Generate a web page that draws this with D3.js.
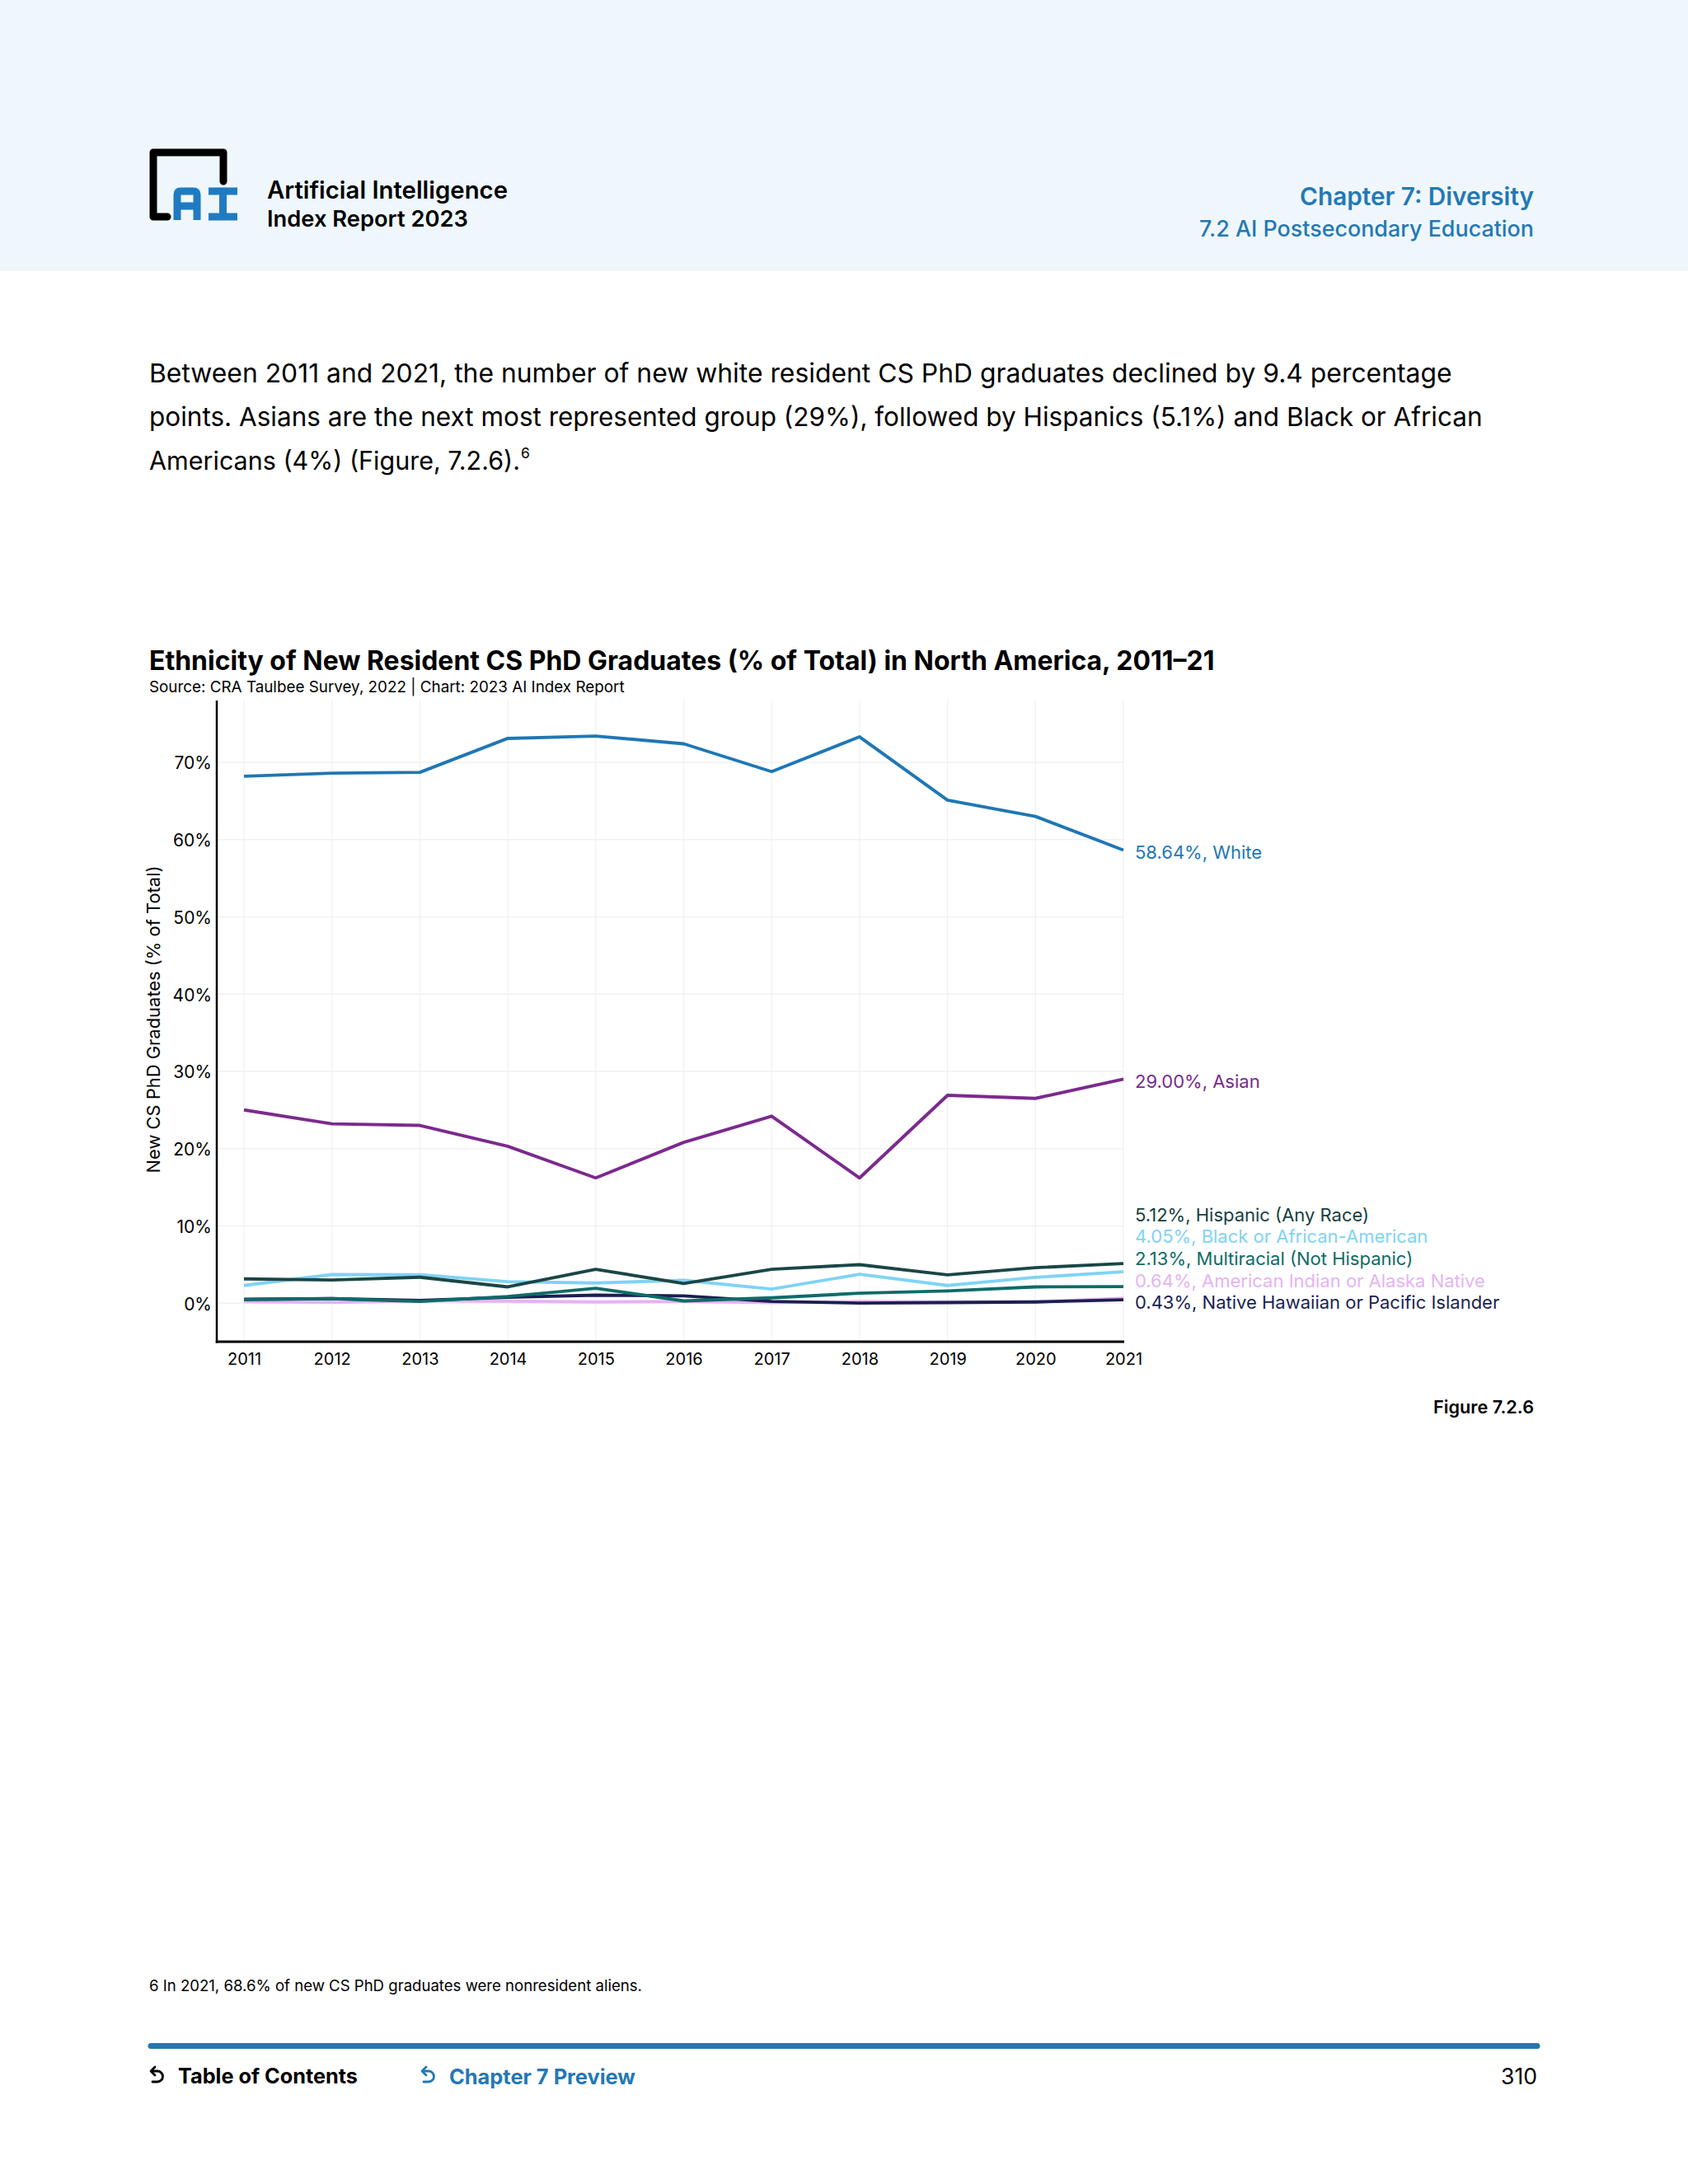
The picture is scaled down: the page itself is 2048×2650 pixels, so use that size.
<!DOCTYPE html>
<html>
<head>
<meta charset="utf-8">
<script src="https://cdn.jsdelivr.net/npm/d3@7"></script>
<style>
  html, body { margin: 0; padding: 0; background: #fff; }
  svg { display: block; }
  text { font-family: Inter, "Noto Sans", sans-serif; }
</style>
</head>
<body>
<svg id="page" width="2048" height="2650"></svg>
<script>
// ---------------- DATA ----------------
const years = [2011, 2012, 2013, 2014, 2015, 2016, 2017, 2018, 2019, 2020, 2021];
const white      = [68.2, 68.6, 68.7, 73.1, 73.4, 72.4, 68.8, 73.3, 65.1, 63.0, 58.64];
const asian      = [25.0, 23.2, 23.0, 20.3, 16.2, 20.8, 24.2, 16.2, 26.9, 26.5, 29.00];
const hispanic   = [3.13, 2.99, 3.35, 2.10, 4.38, 2.53, 4.38, 4.98, 3.66, 4.59, 5.12];
const black      = [2.28, 3.70, 3.67, 2.77, 2.60, 2.95, 1.81, 3.73, 2.28, 3.34, 4.05];
const multiracial= [0.45, 0.57, 0.21, 0.85, 1.92, 0.28, 0.68, 1.28, 1.57, 2.10, 2.13];
const amIndian   = [0.20, 0.10, 0.30, 0.25, 0.15, 0.21, 0.05, 0.20, 0.15, 0.15, 0.64];
const nhpi       = [0.50, 0.57, 0.35, 0.75, 1.03, 0.93, 0.21, 0.00, 0.07, 0.15, 0.43];
const seriesNames = ["White", "Asian", "Hispanic (Any Race)", "Black or African-American",
  "Multiracial (Not Hispanic)", "American Indian or Alaska Native", "Native Hawaiian or Pacific Islander"];
const yTicks = [0, 10, 20, 30, 40, 50, 60, 70];

const colors = {
  "White": "#1f77b4",
  "Asian": "#7b2a8e",
  "Hispanic (Any Race)": "#1b4646",
  "Black or African-American": "#7fd3f6",
  "Multiracial (Not Hispanic)": "#0e6b68",
  "American Indian or Alaska Native": "#e6b3f3",
  "Native Hawaiian or Pacific Islander": "#1b1f52"
};
const labelColors = {
  "White": "#1f77b4",
  "Asian": "#7b2a8e",
  "Hispanic (Any Race)": "#173f3e",
  "Black or African-American": "#7fd3f6",
  "Multiracial (Not Hispanic)": "#0e6b68",
  "American Indian or Alaska Native": "#e6b3f3",
  "Native Hawaiian or Pacific Islander": "#1b1f52"
};
const seriesValues = [white, asian, hispanic, black, multiracial, amIndian, nhpi];
const series = seriesNames.map((n, i) => ({ name: n, values: seriesValues[i] }));

// ---------------- HELPERS ----------------
const svg = d3.select("#page");
function fit(sel, w) {
  const n = sel.node();
  const len = n.getComputedTextLength();
  const fs = parseFloat(sel.attr("font-size"));
  if (len > 0) sel.attr("font-size", (fs * w / len).toFixed(2));
  return sel;
}
function txt(x, y, s, size, opts = {}) {
  const t = svg.append("text")
    .attr("x", x).attr("y", y)
    .attr("font-size", size)
    .attr("dominant-baseline", "central")
    .attr("fill", opts.fill || "#000")
    .attr("font-weight", opts.weight || 400)
    .attr("text-anchor", opts.anchor || "start")
    .text(s);
  if (opts.family) t.style("font-family", opts.family);
  if (opts.width) fit(t, opts.width);
  return t;
}

// ---------------- HEADER ----------------
svg.append("rect").attr("x", 0).attr("y", 0).attr("width", 2048).attr("height", 329).attr("fill", "#eff7fd");

// logo
svg.append("path")
  .attr("d", "M203,263 H186 V185 H271 V220")
  .attr("fill", "none").attr("stroke", "#000").attr("stroke-width", 9)
  .attr("stroke-linejoin", "round").attr("stroke-linecap", "round");
svg.append("path")
  .attr("d", "M215,267 V236 Q215,232 219,232 H235 Q239,232 239,236 V267 M215,250 H239")
  .attr("fill", "none").attr("stroke", "#1f7bc1").attr("stroke-width", 9);
svg.append("path")
  .attr("d", "M253,232 H288 M270.5,232 V263 M253,263 H288")
  .attr("fill", "none").attr("stroke", "#1f7bc1").attr("stroke-width", 9);

txt(324, 230, "Artificial Intelligence", 28, { weight: 600, width: 292 });
txt(324, 265, "Index Report 2023", 28, { weight: 600, width: 244 });
txt(1861, 238, "Chapter 7: Diversity", 30, { weight: 600, anchor: "end", fill: "#2378b5", width: 284 });
txt(1861, 277, "7.2 AI Postsecondary Education", 25, { weight: 500, anchor: "end", fill: "#2378b5", width: 406 });

// ---------------- PARAGRAPH ----------------
const para = [
  "Between 2011 and 2021, the number of new white resident CS PhD graduates declined by 9.4 percentage",
  "points. Asians are the next most represented group (29%), followed by Hispanics (5.1%) and Black or African",
  "Americans (4%) (Figure, 7.2.6)."
];
const p1 = txt(181, 452, para[0], 31, { width: 1581 });
const pfs = p1.attr("font-size");
txt(181, 505, para[1], pfs, { width: 1617 });
const p3 = txt(181, 558, para[2], pfs, { width: 450 });
const p3end = 181 + p3.node().getComputedTextLength();
txt(p3end + 1, 549, "6", pfs * 0.55);

// ---------------- CHART ----------------
txt(181, 801, "Ethnicity of New Resident CS PhD Graduates (% of Total) in North America, 2011–21", 32, { weight: 700, width: 1293 });
txt(181, 833, "Source: CRA Taulbee Survey, 2022 | Chart: 2023 AI Index Report", 19, { width: 577 });

const axisLeft = 263, plotRight = 1363, plotTop = 850, plotBottom = 1628;
const x = d3.scaleLinear().domain([2011, 2021]).range([296, 1363]);
const y = d3.scaleLinear().domain([-5, 78]).range([plotBottom, plotTop]);

const g = svg.append("g");
// grid
g.selectAll(".vgrid").data(years).join("line")
  .attr("x1", d => x(d)).attr("x2", d => x(d))
  .attr("y1", plotTop).attr("y2", plotBottom)
  .attr("stroke", "#f1f1f1").attr("stroke-width", 1.2);
g.selectAll(".hgrid").data(yTicks).join("line")
  .attr("x1", axisLeft).attr("x2", plotRight)
  .attr("y1", d => y(d)).attr("y2", d => y(d))
  .attr("stroke", "#f1f1f1").attr("stroke-width", 1.5);

// axes
const yAxis = d3.axisLeft(y).tickValues(yTicks).tickFormat(d => d + "%").tickSize(0).tickPadding(6);
const ya = svg.append("g").attr("transform", `translate(${axisLeft},0)`).call(yAxis);
ya.select(".domain").remove();
ya.selectAll("text").attr("font-size", 21).attr("fill", "#000").attr("dy", "0.38em").style("font-family", "Inter, sans-serif");

const xAxis = d3.axisBottom(x).tickValues(years).tickFormat(d3.format("d")).tickSize(0).tickPadding(14);
const xa = svg.append("g").attr("transform", `translate(0,${plotBottom})`).call(xAxis);
xa.select(".domain").remove();
xa.selectAll("text").attr("font-size", 20).attr("fill", "#000").style("font-family", "Inter, sans-serif");

svg.append("line").attr("x1", axisLeft).attr("x2", axisLeft).attr("y1", plotTop).attr("y2", plotBottom + 1.5)
  .attr("stroke", "#000").attr("stroke-width", 2.5);
svg.append("line").attr("x1", axisLeft - 1.25).attr("x2", plotRight + 1).attr("y1", plotBottom).attr("y2", plotBottom)
  .attr("stroke", "#000").attr("stroke-width", 3);

// y axis title
const yt = svg.append("text")
  .attr("transform", `translate(186,1237) rotate(-90)`)
  .attr("text-anchor", "middle").attr("dominant-baseline", "central")
  .attr("font-size", 21).attr("fill", "#000")
  .text("New CS PhD Graduates (% of Total)");
fit(yt, 373);

// lines
const line = d3.line().x((d, i) => x(years[i])).y(d => y(d));
const drawOrder = ["American Indian or Alaska Native", "Native Hawaiian or Pacific Islander",
  "Multiracial (Not Hispanic)", "Black or African-American", "Hispanic (Any Race)", "Asian", "White"];
drawOrder.forEach(n => {
  const s = series.find(d => d.name === n);
  svg.append("path").attr("d", line(s.values))
    .attr("fill", "none").attr("stroke", colors[n]).attr("stroke-width", 3.9)
    .attr("stroke-linejoin", "round").attr("stroke-linecap", "butt");
});

// labels with dodging
const lab = series.map(s => ({ name: s.name, v: s.values[s.values.length - 1], ty: y(s.values[s.values.length - 1]) }));
lab.sort((a, b) => a.v - b.v);
const gap = 26.6;
let prev = Infinity;
lab.forEach(l => { l.py = Math.min(l.ty + 3, prev - gap); prev = l.py; });
lab.forEach(l => {
  txt(1377, l.py, d3.format(".2f")(l.v) + "%, " + l.name, 22, { fill: labelColors[l.name] });
});

txt(1861, 1707, "Figure 7.2.6", 21, { weight: 600, anchor: "end", width: 122 });

// ---------------- FOOTER ----------------
txt(181, 2409, "6 In 2021, 68.6% of new CS PhD graduates were nonresident aliens.", 19, { width: 598 });
svg.append("line").attr("x1", 183).attr("x2", 1865).attr("y1", 2482.5).attr("y2", 2482.5)
  .attr("stroke", "#2278ae").attr("stroke-width", 7).attr("stroke-linecap", "round");

function backArrow(x0, yc, color) {
  svg.append("path")
    .attr("d", `M${x0 + 3},${yc - 6} H${x0 + 9} A6.5,6.5 0 0 1 ${x0 + 9},${yc + 7} H${x0 + 3}`)
    .attr("fill", "none").attr("stroke", color).attr("stroke-width", 2.8).attr("stroke-linecap", "round");
  svg.append("path")
    .attr("d", `M${x0 + 6},${yc - 11} L${x0 + 1},${yc - 6} L${x0 + 6},${yc - 1}`)
    .attr("fill", "none").attr("stroke", color).attr("stroke-width", 2.8).attr("stroke-linecap", "round").attr("stroke-linejoin", "round");
}
backArrow(182, 2519, "#000");
txt(216, 2519, "Table of Contents", 26, { weight: 700, width: 218 });
backArrow(511, 2519, "#2378b5");
txt(545, 2519, "Chapter 7 Preview", 26, { weight: 700, fill: "#2378b5", width: 226 });
txt(1865, 2519, "310", 25, { anchor: "end", width: 44 });
</script>
</body>
</html>
